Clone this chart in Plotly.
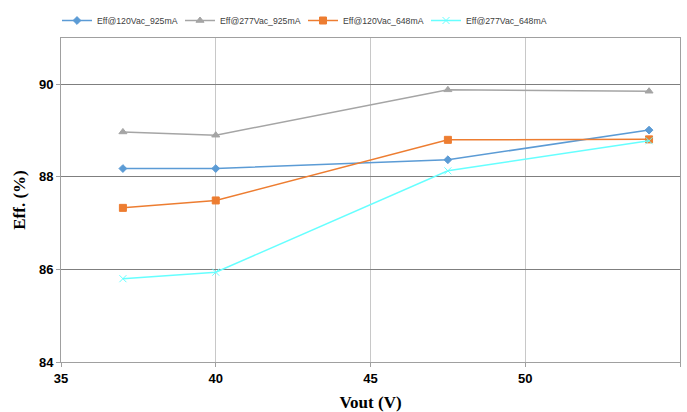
import plotly.graph_objects as go

vout = [37, 40, 47.5, 54]
eff_120_925 = [88.18, 88.18, 88.37, 89.01]
eff_277_925 = [88.97, 88.90, 89.88, 89.85]
eff_120_648 = [87.33, 87.49, 88.80, 88.81]
eff_277_648 = [85.80, 85.94, 88.13, 88.78]

names = ["Eff@120Vac_925mA", "Eff@277Vac_925mA", "Eff@120Vac_648mA", "Eff@277Vac_648mA"]
colors = ["#5B9BD5", "#A5A5A5", "#ED7D31", "#66FFFF"]
symbols = ["diamond", "triangle-up", "square", "x-thin"]
sizes = [6, 7, 7, 7]
series = [eff_120_925, eff_277_925, eff_120_648, eff_277_648]

fig = go.Figure()
for n, c, s, sz, y in zip(names, colors, symbols, sizes, series):
    fig.add_trace(go.Scatter(
        x=vout, y=y, name=n, mode="lines+markers",
        line=dict(color=c, width=1.5),
        marker=dict(symbol=s, size=sz, color=c, line=dict(color=c, width=1)),
    ))

fig.update_layout(
    width=687, height=412,
    margin=dict(l=61, r=7, t=38, b=50, autoexpand=False),
    paper_bgcolor="white", plot_bgcolor="white",
    showlegend=True,
    legend=dict(orientation="h", x=57 / 687, y=1 - 6 / 412, xref="container", yref="container",
                xanchor="left", yanchor="top",
                font=dict(family="Arial, Liberation Sans", size=8.7, color="#404040"),
                entrywidth=78, entrywidthmode="pixels",
                itemwidth=30, tracegroupgap=0),
    xaxis=dict(range=[35, 55], tickvals=[35, 40, 45, 50, 55], showgrid=True, automargin=False,
               gridcolor="#C8C8C8", gridwidth=1, zeroline=False,
               showline=True, linecolor="#A0A0A0", linewidth=1, mirror=True,
               ticks="outside", ticklen=4, tickcolor="#A0A0A0",
               tickfont=dict(family="Arial, Liberation Sans", size=13, color="black", weight="bold"),
               title=dict(text="Vout (V)", standoff=12,
                          font=dict(family="Times New Roman, Liberation Serif", size=17, color="black", weight="bold"))),
    yaxis=dict(range=[84, 91], tickvals=[84, 86, 88, 90], showgrid=True, automargin=False,
               gridcolor="#7F7F7F", gridwidth=1, zeroline=False,
               showline=True, linecolor="#A0A0A0", linewidth=1, mirror=True,
               ticks="outside", ticklen=4, tickcolor="#A0A0A0",
               tickfont=dict(family="Arial, Liberation Sans", size=13, color="black", weight="bold"),
               title=dict(text="Eff. (%)", standoff=8,
                          font=dict(family="Times New Roman, Liberation Serif", size=17, color="black", weight="bold"))),
)

post = ("document.body.style.margin='0';document.body.style.overflow='hidden';"
        "Plotly.relayout('{plot_id}', {width:687, height:412});")
fig.write_html("out.html", post_script=post,
               config={"responsive": False, "displayModeBar": False})
